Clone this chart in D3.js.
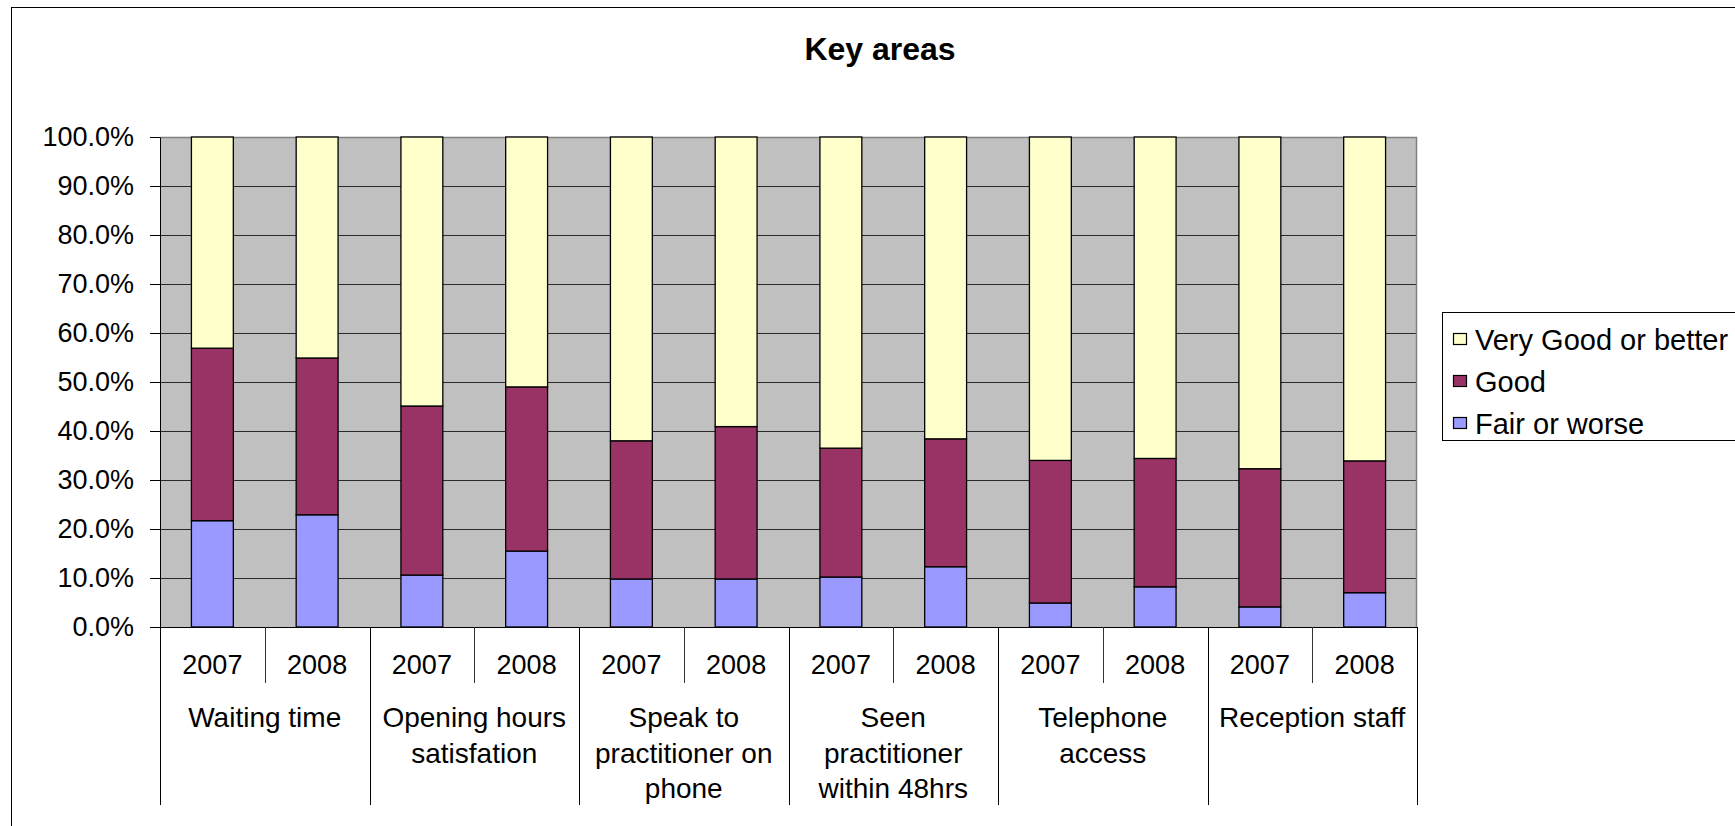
<!DOCTYPE html>
<html>
<head>
<meta charset="utf-8">
<script src="https://cdn.jsdelivr.net/npm/d3@7"></script>
<style>
  html, body { margin: 0; padding: 0; background: #ffffff; }
  svg { display: block; font-family: "Liberation Sans", Arial, sans-serif; }
</style>
</head>
<body>
<svg id="chart" width="1735" height="826"></svg>
<script>
// Survey areas (each shown for two years) and the share of answers in each band
const categories = ["Waiting time", "Opening hours satisfation", "Speak to practitioner on phone",
                    "Seen practitioner within 48hrs", "Telephone access", "Reception staff"];
const categoryLines = [["Waiting time"], ["Opening hours", "satisfation"], ["Speak to", "practitioner on", "phone"],
                       ["Seen", "practitioner", "within 48hrs"], ["Telephone", "access"], ["Reception staff"]];
const years = ["2007", "2008"];

// Percentages, in the order: category 1 2007, category 1 2008, category 2 2007, ...
const fairOrWorse      = [21.7, 22.9, 10.6, 15.5,  9.8,  9.8, 10.2, 12.3,  4.9,  8.2,  4.1,  7.0];
const good             = [35.2, 32.0, 34.5, 33.5, 28.2, 31.1, 26.3, 26.1, 29.1, 26.2, 28.2, 26.9];
const veryGoodOrBetter = [43.1, 45.1, 54.9, 51.0, 62.0, 59.1, 63.5, 61.6, 66.0, 65.6, 67.7, 66.1];

const seriesNames = ["Fair or worse", "Good", "Very Good or better"];
const seriesColors = ["#9999FF", "#993366", "#FFFFCC"];
const yTicks = [0, 10, 20, 30, 40, 50, 60, 70, 80, 90, 100];

const rows = [];
categories.forEach((c, i) => {
  years.forEach((yr, j) => {
    const k = i * 2 + j;
    rows.push({ category: c, year: yr,
      "Fair or worse": fairOrWorse[k], "Good": good[k], "Very Good or better": veryGoodOrBetter[k] });
  });
});

const svg = d3.select("#chart");
const plot = { left: 160, right: 1417, top: 137, bottom: 627 };

// Chart area frame
svg.append("rect").attr("x", 11.5).attr("y", 7.5).attr("width", 1760).attr("height", 900)
  .attr("fill", "#ffffff").attr("stroke", "#000").attr("stroke-width", 1);

// Title
svg.append("text").attr("x", 880).attr("y", 60).attr("text-anchor", "middle")
  .attr("font-size", 32).attr("font-weight", "bold").attr("fill", "#000").text("Key areas");

const x0 = d3.scaleBand().domain(categories).range([plot.left, plot.right]).padding(0);
const x1 = d3.scaleBand().domain(years).range([0, x0.bandwidth()]).padding(0);
const y = d3.scaleLinear().domain([0, 100]).range([plot.bottom, plot.top]);
const color = d3.scaleOrdinal().domain(seriesNames).range(seriesColors);

// Plot background
svg.append("rect").attr("x", plot.left).attr("y", plot.top)
  .attr("width", plot.right - plot.left).attr("height", plot.bottom - plot.top)
  .attr("fill", "#C0C0C0");

// Horizontal gridlines
svg.append("g").selectAll("line").data(yTicks.filter(t => t > 0 && t < 100)).join("line")
  .attr("x1", plot.left).attr("x2", plot.right)
  .attr("y1", d => Math.round(y(d)) + 0.5).attr("y2", d => Math.round(y(d)) + 0.5)
  .attr("stroke", "#2a2a2a").attr("stroke-width", 1);

// Plot border (top and right)
svg.append("path")
  .attr("d", `M${plot.left},${plot.top + 0.5}H${plot.right - 0.5}V${plot.bottom}`)
  .attr("fill", "none").attr("stroke", "#808080").attr("stroke-width", 1.5);

// Stacked bars
const stack = d3.stack().keys(seriesNames);
const stacked = stack(rows);
const barW = x1.bandwidth() / 2.5;
svg.append("g").selectAll("g").data(stacked).join("g")
  .attr("fill", d => color(d.key))
  .selectAll("rect").data(d => d).join("rect")
  .attr("x", d => x0(d.data.category) + x1(d.data.year) + (x1.bandwidth() - barW) / 2)
  .attr("y", d => y(d[1]))
  .attr("width", barW)
  .attr("height", d => y(d[0]) - y(d[1]))
  .attr("stroke", "#000").attr("stroke-width", 1.3);

// Y axis
const yAxis = svg.append("g").attr("transform", `translate(${plot.left},0)`)
  .call(d3.axisLeft(y).tickValues(yTicks).tickSize(10).tickSizeOuter(0).tickPadding(16)
    .tickFormat(d => d.toFixed(1) + "%"));
yAxis.select(".domain").attr("stroke", "#000");
yAxis.selectAll(".tick line").attr("stroke", "#000");
yAxis.selectAll(".tick text").attr("font-size", 27).attr("fill", "#000")
  .attr("font-family", "Liberation Sans, Arial, sans-serif");

// X axis line
svg.append("line").attr("x1", plot.left).attr("x2", plot.right)
  .attr("y1", plot.bottom + 0.5).attr("y2", plot.bottom + 0.5).attr("stroke", "#000");

// Year labels and separators between years
const xg = svg.append("g");
categories.forEach(c => {
  years.forEach(yr => {
    xg.append("text").attr("x", x0(c) + x1(yr) + x1.bandwidth() / 2).attr("y", 674)
      .attr("text-anchor", "middle").attr("font-size", 27).attr("fill", "#000").text(yr);
  });
  const mid = Math.round(x0(c) + x1(years[1])) + 0.5;
  xg.append("line").attr("x1", mid).attr("x2", mid).attr("y1", plot.bottom).attr("y2", 683)
    .attr("stroke", "#333");
});

// Category separators and labels
const bounds = categories.map(c => x0(c)).concat([plot.right]);
xg.selectAll("line.cat").data(bounds).join("line").attr("class", "cat")
  .attr("x1", d => Math.round(d) + 0.5).attr("x2", d => Math.round(d) + 0.5)
  .attr("y1", plot.bottom).attr("y2", 805).attr("stroke", "#000");
categories.forEach((c, i) => {
  const t = xg.append("text").attr("text-anchor", "middle").attr("font-size", 28).attr("fill", "#000");
  categoryLines[i].forEach((ln, k) => {
    t.append("tspan").attr("x", x0(c) + x0.bandwidth() / 2).attr("y", 727 + k * 35.5).text(ln);
  });
});

// Legend
const lg = svg.append("g");
lg.append("rect").attr("x", 1442.5).attr("y", 312.5).attr("width", 400).attr("height", 128)
  .attr("fill", "#ffffff").attr("stroke", "#000").attr("stroke-width", 1);
const legendOrder = seriesNames.slice().reverse();
legendOrder.forEach((name, i) => {
  const base = 350 + i * 42;
  lg.append("rect").attr("x", 1453.5).attr("y", base - 16.5).attr("width", 13).attr("height", 11)
    .attr("fill", color(name)).attr("stroke", "#000").attr("stroke-width", 1.2);
  lg.append("text").attr("x", 1475).attr("y", base).attr("font-size", 29).attr("fill", "#000").text(name);
});
</script>
</body>
</html>
